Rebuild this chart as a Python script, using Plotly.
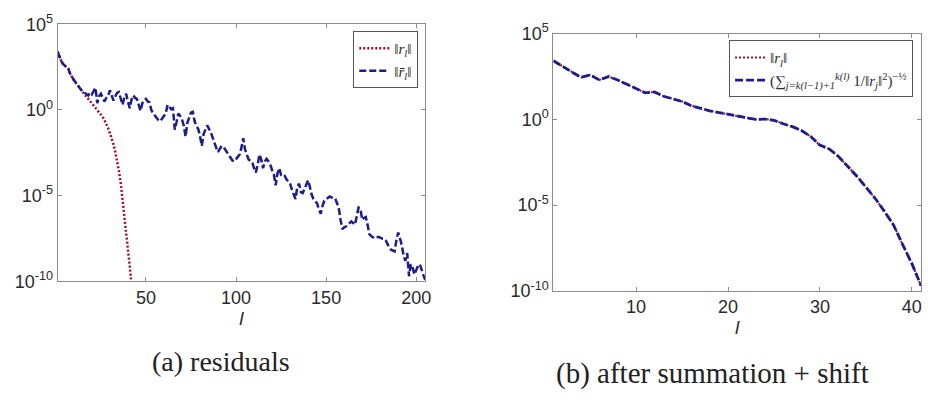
import plotly.graph_objects as go

# ---------------- data (log10 of residual norms) ----------------
# (a) residuals
l_red_a = list(range(1, 43))
log_red_a = [3.4, 3.1, 2.85, 2.68, 2.6, 2.5, 2.4, 2.1, 1.9, 1.75,
             1.6, 1.45, 1.35, 1.2, 1.05, 0.9, 0.78, 0.65, 0.52, 0.4,
             0.28, 0.15, 0.02, -0.1, -0.25, -0.4, -0.6, -0.8, -1.05, -1.35,
             -1.65, -2.0, -2.45, -2.95, -3.55, -4.25, -5.15, -6.05, -7.0, -8.0,
             -9.1, -10.2]

l_blue_a = list(range(1, 206))
log_blue_a = [3.4, 3.1, 2.85, 2.68, 2.6, 2.5, 2.4, 2.1, 1.9, 1.75,
              1.6, 1.45, 1.35, 1.2, 1.05, 1.0, 0.9, 0.85, 1.0, 0.9,
              1.1, 1.3, 0.4, 0.8, 0.95, 0.7, 0.5, 0.7, 0.8, 1.15,
              0.9, 0.55, 0.8, 1.0, 1.05, 0.6, 0.3, 0.7, 0.95, 0.5,
              0.1, 0.6, 0.85, 0.7, 0.65, 0.3, -0.05, 0.4, 0.6, 0.65,
              0.5, 0.45, 0.0, -0.2, -0.35, -0.45, -0.6, -0.65, -0.5, -0.4,
              -0.2, 0.3, 0.15, 0.05, 0.1, -1.15, -0.7, -0.2, -0.35, -0.55,
              -0.9, -1.55, -0.75, -0.5, -0.15, -0.1, -0.65, -0.95, -1.1, -1.5,
              -2.1, -1.4, -1.1, -0.9, -1.1, -1.3, -1.6, -1.95, -2.2, -2.45,
              -2.3, -2.1, -2.15, -2.3, -2.5, -2.65, -2.8, -2.95, -3.0, -2.85,
              -2.7, -2.6, -2.2, -1.65, -2.3, -2.6, -2.9, -2.95, -3.05, -3.4,
              -3.65, -3.2, -2.6, -2.9, -3.4, -3.0, -2.85, -3.0, -3.2, -3.5,
              -3.75, -4.4, -3.7, -3.4, -3.8, -3.9, -3.85, -4.05, -4.2, -4.3,
              -4.65, -5.0, -5.2, -4.5, -4.3, -4.8, -4.85, -4.6, -4.3, -4.1,
              -4.5, -4.95, -5.2, -5.35, -5.45, -5.8, -6.05, -5.6, -5.3, -5.2,
              -5.1, -5.05, -5.1, -5.1, -5.15, -5.4, -5.7, -6.4, -6.95, -6.85,
              -6.8, -6.7, -6.6, -6.5, -6.6, -6.7, -6.2, -5.7, -5.75, -6.4,
              -6.3, -6.25, -6.7, -7.25, -7.35, -7.45, -7.5, -7.45, -7.4, -7.45,
              -7.5, -7.5, -7.6, -7.8, -8.05, -8.15, -8.2, -8.25, -7.6, -7.15,
              -7.5, -7.9, -8.5, -8.8, -8.35, -9.7, -9.0, -9.2, -9.6, -9.3,
              -9.1, -9.0, -9.4, -9.65, -9.9]

# (b) after summation + shift
l_b = list(range(1, 42))
log_b = [3.42, 3.1, 2.75, 2.45, 2.6, 2.3, 2.5, 2.3, 2.05, 1.8,
         1.55, 1.6, 1.35, 1.2, 1.05, 0.8, 0.65, 0.5, 0.4, 0.3,
         0.2, 0.08, 0.0, 0.02, -0.05, -0.25, -0.42, -0.65, -1.0, -1.5,
         -1.72, -2.15, -2.7, -3.3, -3.95, -4.6, -5.35, -6.15, -7.3, -8.4,
         -9.7]

y_tickvals = [1e-10, 1e-5, 1, 1e5]
y_ticktext = ["10<sup>-10</sup>", "10<sup>-5</sup>", "10<sup>0</sup>", "10<sup>5</sup>"]
xa_ticks = [50, 100, 150, 200]
xb_ticks = [10, 20, 30, 40]

RED = "#9b1030"
BLUE = "#1c1c8a"
AXC = "#8c8c8c"
TXT = "#2a2a2a"

fig = go.Figure()
fig.add_trace(go.Scatter(x=l_red_a, y=[10 ** v for v in log_red_a], mode="lines",
                         line=dict(color=RED, width=2.5, dash="2px,2px"),
                         name="‖<i>r<sub>l</sub></i>‖", xaxis="x", yaxis="y", legend="legend"))
fig.add_trace(go.Scatter(x=l_blue_a, y=[10 ** v for v in log_blue_a], mode="lines",
                         line=dict(color=BLUE, width=2.5, dash="7px,3px"),
                         name="‖<i>r̄<sub>l</sub></i>‖", xaxis="x", yaxis="y", legend="legend"))
fig.add_trace(go.Scatter(x=l_b, y=[10 ** v for v in log_b], mode="lines",
                         line=dict(color=RED, width=2.0, dash="2px,2px"),
                         name="‖<i>r<sub>l</sub></i>‖", xaxis="x2", yaxis="y2", legend="legend2"))
fig.add_trace(go.Scatter(x=l_b, y=[10 ** v for v in log_b], mode="lines",
                         line=dict(color=BLUE, width=2.8, dash="8px,3px"),
                         name="(∑<sub><i>j=k(l−1)+1</i></sub><sup><i>k(l)</i></sup> 1/‖<i>r<sub>j</sub></i>‖<sup>2</sup>)<sup>−½</sup>",
                         xaxis="x2", yaxis="y2", legend="legend2"))

W, H = 928, 401

def px_x(p):
    return p / W

def px_y(p):
    return 1 - p / H

axis_common = dict(showline=True, linecolor=AXC, linewidth=1, mirror="ticks",
                   ticks="inside", ticklen=4, tickcolor=AXC, showgrid=False, zeroline=False,
                   tickfont=dict(family="Liberation Sans, Arial", size=18, color=TXT))

title_font = dict(family="Liberation Sans, Arial", size=19, color=TXT)

fig.update_layout(
    width=W, height=H, margin=dict(l=0, r=0, t=0, b=0),
    paper_bgcolor="white", plot_bgcolor="white", showlegend=True,
    xaxis=dict(domain=[px_x(58), px_x(428)], range=[1, 205], tickvals=xa_ticks,
               anchor="y", title=dict(text="<i>l</i>", standoff=4, font=title_font),
               **axis_common),
    yaxis=dict(domain=[px_y(285), px_y(13)], type="log", range=[-10, 5],
               tickvals=y_tickvals, ticktext=y_ticktext, anchor="x", **axis_common),
    xaxis2=dict(domain=[px_x(557), px_x(927)], range=[1, 41], tickvals=xb_ticks,
                anchor="y2", title=dict(text="<i>l</i>", standoff=4, font=title_font),
                **axis_common),
    yaxis2=dict(domain=[px_y(295), px_y(23)], type="log", range=[-10, 5],
                tickvals=y_tickvals, ticktext=y_ticktext, anchor="x2", **axis_common),
    legend=dict(x=px_x(421), y=px_y(20), xanchor="right", yanchor="top",
                bgcolor="white", bordercolor="#555", borderwidth=1,
                font=dict(family="Liberation Serif, Times New Roman", size=15, color=TXT),
                itemwidth=30, tracegroupgap=0),
    legend2=dict(x=px_x(919), y=px_y(30), xanchor="right", yanchor="top",
                 bgcolor="white", bordercolor="#555", borderwidth=1,
                 font=dict(family="Liberation Serif, Times New Roman", size=15, color=TXT),
                 itemwidth=30, tracegroupgap=0),
    annotations=[
        dict(text="(a) residuals", x=px_x(222), y=px_y(370), xref="paper", yref="paper",
             showarrow=False, xanchor="center", yanchor="middle",
             font=dict(family="Liberation Serif, Times New Roman", size=28, color="#222")),
        dict(text="(b) after summation + shift", x=px_x(717), y=px_y(382), xref="paper", yref="paper",
             showarrow=False, xanchor="center", yanchor="middle",
             font=dict(family="Liberation Serif, Times New Roman", size=29, color="#222")),
    ],
)

fig.write_html("out.html")
